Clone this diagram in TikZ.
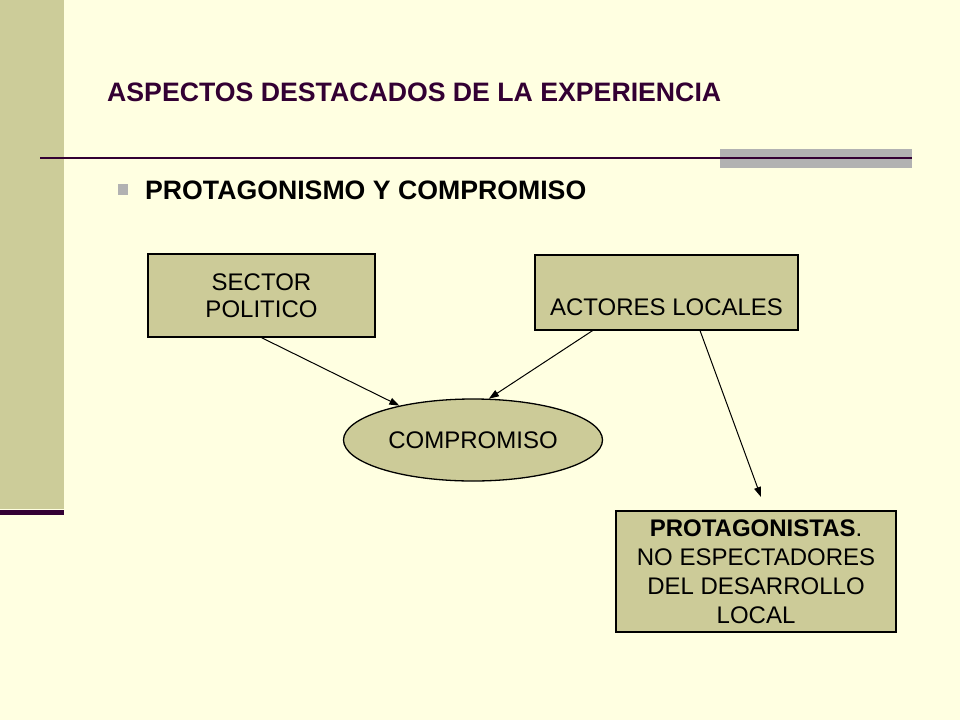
\documentclass[tikz,border=0pt]{standalone}
\usepackage{fontspec}
\setmainfont{Liberation Sans}
\usetikzlibrary{shapes.geometric,arrows.meta,calc}
\definecolor{bgyellow}{HTML}{FFFFE1}
\definecolor{tan}{HTML}{CCCC99}
\definecolor{boxfill}{HTML}{CCCB98}
\definecolor{plum}{HTML}{330033}
\definecolor{bulletgray}{HTML}{B2B2B2}
\tikzset{
  box/.style={draw=black, line width=1.3pt, fill=boxfill, align=center, inner sep=0pt,
    font=\fontsize{24}{29}\selectfont},
  conn/.style={line width=1pt, -{Triangle[length=10pt,width=7pt]}},
}
\begin{document}
\begin{tikzpicture}[x=1pt,y=-1pt]
  % background and frame
  \fill[bgyellow] (0,0) rectangle (960,720);
  \useasboundingbox (0,0) rectangle (960,720);
  \fill[tan] (0,0) rectangle (64,509);
  \fill[plum] (0,510) rectangle (64,514.5);
  \fill[bulletgray] (720,149) rectangle (912,168);
  \draw[plum, line width=2pt] (40,157.5) -- (912,157.5);

  % title
  \node[anchor=base west, inner sep=0pt, text=plum, font=\fontsize{26.67}{32}\selectfont\bfseries]
    (title) at (107,101) {ASPECTOS DESTACADOS DE LA EXPERIENCIA};
  % bullet
  \fill[bulletgray] (118,184) rectangle (128,195);
  \node[anchor=base west, inner sep=0pt, font=\fontsize{26.67}{32}\selectfont\bfseries]
    (sub) at (145,199) {PROTAGONISMO Y COMPROMISO};

  % boxes
  \node[box, minimum width=227pt, minimum height=83pt, font=\fontsize{24}{27}\selectfont]
    (sp) at (261.5,295.5) {SECTOR\\POLITICO};
  \node[box, minimum width=263pt, minimum height=75pt] (al) at (666.5,292.5)
    {\vphantom{A}\\ACTORES LOCALES};
  \node[draw=black, line width=1.3pt, fill=boxfill, ellipse, inner sep=0pt,
    minimum width=259pt, minimum height=82pt, font=\fontsize{24}{29}\selectfont]
    (cm) at (473,440) {COMPROMISO};
  \node[box, minimum width=280pt, minimum height=121pt] (pr) at (756,571.5)
    {\textbf{PROTAGONISTAS}.\\NO ESPECTADORES\\DEL DESARROLLO\\LOCAL};

  % connectors
  \coordinate (free) at (761,497);
  \draw[conn] (sp.south) -- (cm.155);
  \draw[conn] ($(al.south west)!0.22!(al.south east)$) -- (cm.69);
  \draw[conn] ($(al.south west)!0.627!(al.south east)$) -- (free);
\end{tikzpicture}
\end{document}
